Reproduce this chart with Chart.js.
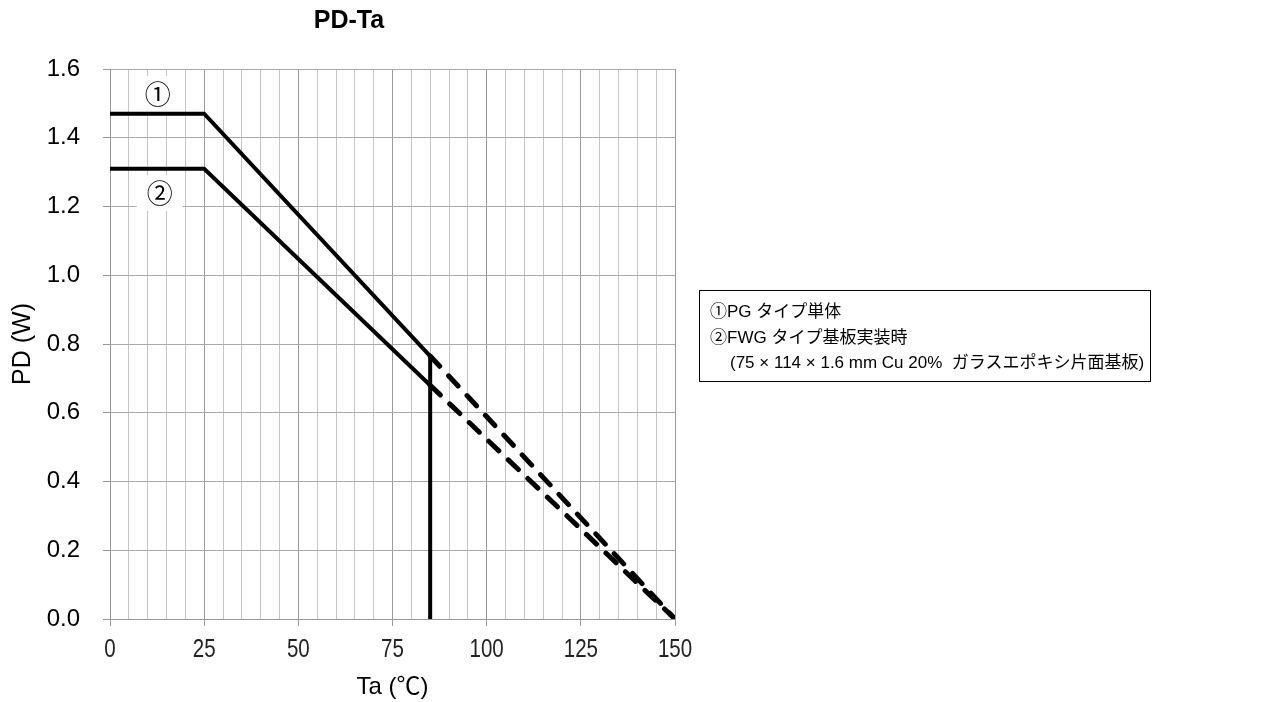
<!DOCTYPE html>
<html>
<head>
<meta charset="utf-8">
<script src="https://cdn.jsdelivr.net/npm/chart.js@4.4.1/dist/chart.umd.min.js"></script>
<style>
  html, body { margin: 0; padding: 0; background: #fff; }
  #wrap { position: absolute; left: 0; top: 0; width: 784px; height: 702px; }
  #note {
    position: absolute; left: 699px; top: 290px; width: 440px; height: 82px;
    border: 1.5px solid #000; padding: 8px 0 0 10px; box-sizing: content-box;
    font-family: 'Liberation Sans', Arial, 'Noto Sans CJK JP', sans-serif;
    font-size: 17px; line-height: 25.5px; color: #000; white-space: nowrap;
  }
  #note .ind { padding-left: 20px; }
</style>
</head>
<body>
<div id="wrap"><canvas id="c"></canvas></div>
<div id="note">
  <div>①PG タイプ単体</div>
  <div>②FWG タイプ基板実装時</div>
  <div class="ind">(75 × 114 × 1.6 mm Cu 20%&nbsp; ガラスエポキシ片面基板)</div>
</div>
<script>
// Ta (°C) breakpoints and PD (W) values
const taPoints = [0, 25, 85, 150];
const pd1 = [1.47, 1.47, 0.765, 0];   // ① PG single
const pd2 = [1.31, 1.31, 0.68, 0];    // ② FWG on board
const limitTa = 85;                    // solid up to here, dashed after
const yTicks = [0, 0.2, 0.4, 0.6, 0.8, 1.0, 1.2, 1.4, 1.6];
const xLabelStep = 25;
const curveLabels = [
  {text: '①', x: 12.7, y: 1.53},
  {text: '②', x: 13.2, y: 1.242},
];
const chartTitle = 'PD-Ta';

const toXY = arr => taPoints.map((t, i) => ({x: t, y: arr[i]}));
const isDashed = ctx => ctx.p0.parsed.x >= limitTa;

// title, curve tags and the narrow x tick labels
const extrasPlugin = {
  id: 'extras',
  beforeDatasetsDraw(chart) {
    const {ctx, scales: {x, y}} = chart;
    ctx.save();
    ctx.font = '26px "Noto Sans CJK JP", "DejaVu Sans", sans-serif';
    ctx.textAlign = 'center';
    ctx.textBaseline = 'middle';
    curveLabels.forEach(l => {
      const px = x.getPixelForValue(l.x), py = y.getPixelForValue(l.y);
      ctx.fillStyle = '#fff';
      ctx.fillRect(px - 23, py - 17, 46, 36);
      ctx.fillStyle = '#000';
      ctx.fillText(l.text, px, py + 1);
    });
    ctx.restore();
  },
  afterDraw(chart) {
    const {ctx, chartArea, scales: {x}} = chart;
    ctx.save();
    ctx.fillStyle = '#000';
    ctx.textAlign = 'center';
    ctx.textBaseline = 'middle';
    ctx.font = 'bold 25px "Liberation Sans", Arial, sans-serif';
    ctx.fillText(chartTitle, 349, 21);

    ctx.font = '25px "Liberation Sans", Arial, sans-serif';
    ctx.fillStyle = '#222';
    x.ticks.filter(t => t.value % xLabelStep === 0).forEach(t => {
      const px = x.getPixelForValue(t.value);
      ctx.save();
      ctx.translate(px, chartArea.bottom + 31);
      ctx.scale(0.82, 1);
      ctx.fillText(String(t.value), 0, 0);
      ctx.restore();
    });
    ctx.restore();
  }
};

const lineStyle = {
  borderColor: '#000', borderWidth: 4, pointRadius: 0, tension: 0, fill: false,
  segment: {
    borderDash: ctx => isDashed(ctx) ? [14, 13] : undefined,
    borderWidth: ctx => isDashed(ctx) ? 5 : 4,
    borderCapStyle: ctx => isDashed(ctx) ? 'round' : 'butt',
  },
};

new Chart(document.getElementById('c'), {
  type: 'line',
  data: {
    datasets: [
      {...lineStyle, label: '①', data: toXY(pd1)},
      {...lineStyle, label: '②', data: toXY(pd2)},
      {label: 'limit', data: [{x: limitTa, y: 0}, {x: limitTa, y: pd1[2]}],
       borderColor: '#000', borderWidth: 4, pointRadius: 0, borderCapStyle: 'butt'},
    ]
  },
  options: {
    responsive: true, maintainAspectRatio: false, animation: false,
    layout: {padding: {left: 0, right: 109, top: 69, bottom: 0}},
    plugins: {
      legend: {display: false},
      tooltip: {enabled: false},
      title: {display: false},
    },
    scales: {
      x: {
        type: 'linear', min: 0, max: 150,
        afterFit: s => { s.height = 83; },
        ticks: {stepSize: 5, autoSkip: false, display: false},
        grid: {
          color: c => c.tick && c.tick.value % xLabelStep === 0 ? '#999' : '#c4c4c4',
          tickColor: c => c.tick && c.tick.value % xLabelStep === 0 ? '#999' : 'rgba(0,0,0,0)',
          tickLength: 7,
        },
        border: {color: '#999'},
        title: {
          display: true, text: 'Ta (℃)', color: '#000', padding: {top: 0, bottom: 0},
          font: {family: "'Liberation Sans', Arial, 'Noto Sans CJK JP', sans-serif", size: 24},
        },
      },
      y: {
        type: 'linear', min: 0, max: 1.6,
        afterFit: s => { s.width = 110; },
        afterBuildTicks: s => { s.ticks = yTicks.map(v => ({value: v})); },
        ticks: {
          color: '#000', padding: 23,
          font: {family: "'Liberation Sans', Arial, sans-serif", size: 24},
          callback: v => Number(v).toFixed(1),
        },
        grid: {color: '#aaa', tickColor: '#999', tickLength: 7},
        border: {color: '#999'},
        title: {
          display: true, text: 'PD (W)', color: '#000', padding: {top: 8, bottom: 0},
          font: {family: "'Liberation Sans', Arial, sans-serif", size: 25},
        },
      },
    },
  },
  plugins: [extrasPlugin],
});
</script>
</body>
</html>
